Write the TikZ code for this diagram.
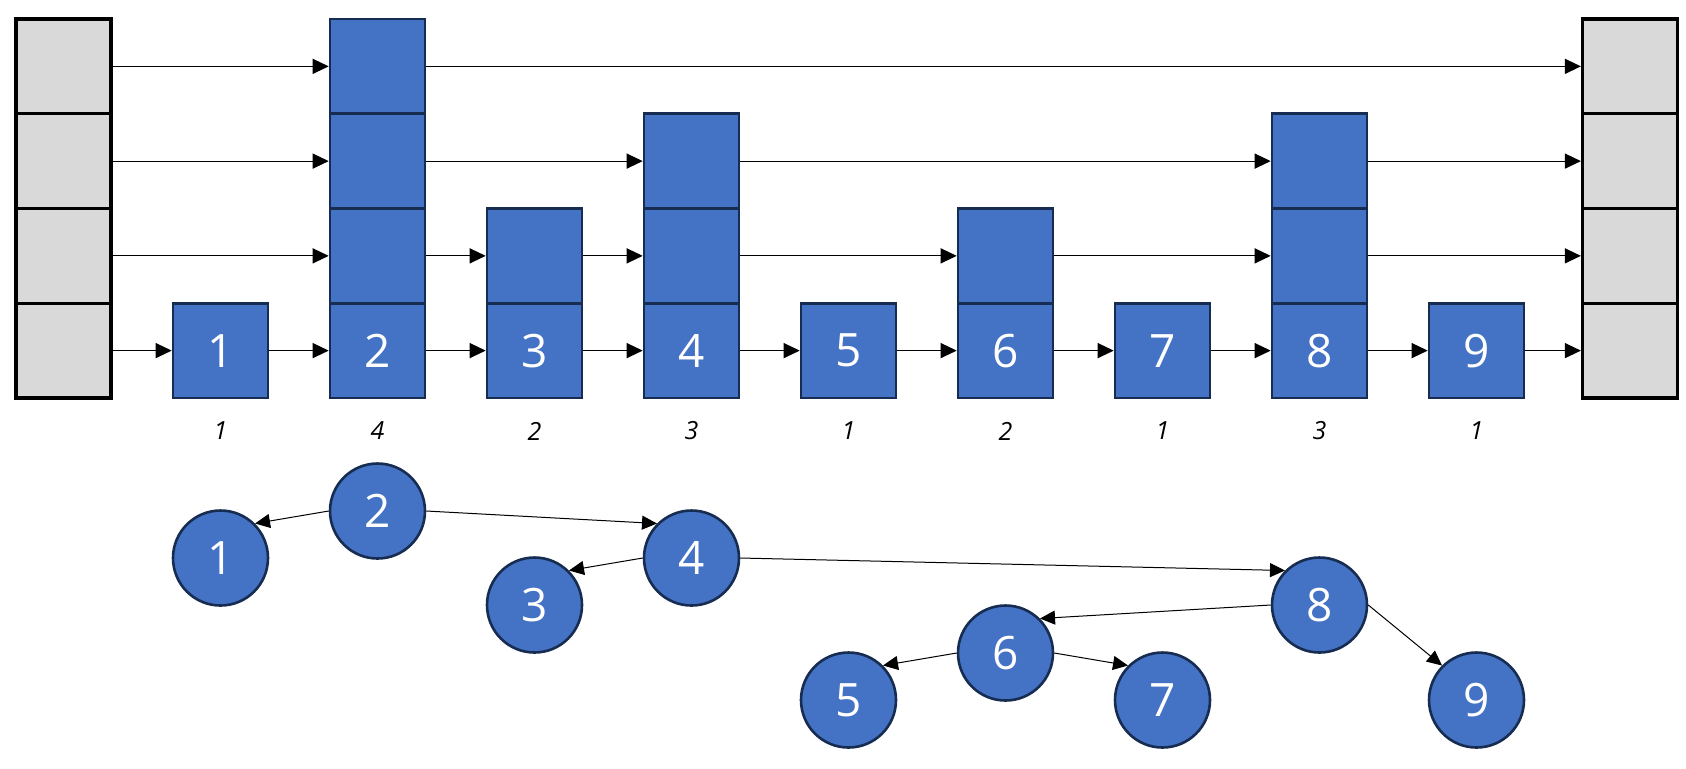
\documentclass[tikz,border=0pt]{standalone}
\usepackage{fontspec}
\setmainfont{Open Sans}
\usetikzlibrary{arrows.meta}
\definecolor{bfill}{HTML}{4472C4}
\definecolor{bdraw}{HTML}{172C51}
\definecolor{gfill}{HTML}{D9D9D9}
\begin{document}
\begin{tikzpicture}[x=0.5pt,y=-0.5pt,
 cell/.style={draw=bdraw,fill=bfill,line width=1.3pt,minimum width=47.5pt,minimum height=47.4pt,inner sep=0pt,text=white,font=\fontsize{23}{23}\selectfont},
 gcell/.style={draw=black,fill=gfill,line width=1.6pt,minimum width=47.5pt,minimum height=47.4pt,inner sep=0pt},
 tnode/.style={circle,draw=bdraw,fill=bfill,line width=1.3pt,minimum size=47.5pt,inner sep=0pt,text=white,font=\fontsize{23}{23}\selectfont},
 link/.style={-{Triangle[length=8pt,width=7.5pt]},line width=0.6pt},
 tlink/.style={-{Triangle[length=7.5pt,width=7pt]},line width=0.5pt},
 cnt/.style={font=\fontsize{12.5}{12.5}\selectfont\itshape}]
\useasboundingbox (0,0) rectangle (1686,768);
% gray head/tail columns
\foreach \r in {0,1,2,3}{
  \pgfmathsetmacro\yy{350.6-94.75*\r}
  \node[gcell] (L\r) at (63.5,\yy) {};
  \node[gcell] (R\r) at (1630,\yy) {};
}
% bottom numbered cells and counts
\foreach \i/\c in {1/1,2/4,3/2,4/3,5/1,6/2,7/1,8/3,9/1}{
  \pgfmathsetmacro\xx{220.5+157*(\i-1)}
  \node[cell] (b\i0) at (\xx,350.6) {\i};
  \node[cnt] (c\i) at (\xx,431) {\c};
}
% upper cells
\foreach \i/\r in {2/1,2/2,2/3,3/1,4/1,4/2,6/1,8/1,8/2}{
  \pgfmathsetmacro\xx{220.5+157*(\i-1)}
  \pgfmathsetmacro\yy{350.6-94.75*\r}
  \node[cell] (b\i\r) at (\xx,\yy) {};
}
% level links
\foreach \a/\b in {L0/b10,b10/b20,b20/b30,b30/b40,b40/b50,b50/b60,b60/b70,b70/b80,b80/b90,b90/R0,
                   L1/b21,b21/b31,b31/b41,b41/b61,b61/b81,b81/R1,
                   L2/b22,b22/b42,b42/b82,b82/R2,
                   L3/b23,b23/R3}{
  \draw[link] (\a.east) -- (\b.west);
}
% tree
\node[tnode] (t2) at (377.5,511) {2};
\node[tnode] (t1) at (220.5,558) {1};
\node[tnode] (t4) at (691.5,558) {4};
\node[tnode] (t3) at (534.5,605) {3};
\node[tnode] (t8) at (1319.5,605) {8};
\node[tnode] (t6) at (1005.5,653) {6};
\node[tnode] (t5) at (848.5,700) {5};
\node[tnode] (t7) at (1162.5,700) {7};
\node[tnode] (t9) at (1476.5,700) {9};
\draw[tlink] (t2.west) -- (t1.north east);
\draw[tlink] (t2.east) -- (t4.north west);
\draw[tlink] (t4.west) -- (t3.north east);
\draw[tlink] (t4.east) -- (t8.north west);
\draw[tlink] (t8.west) -- (t6.north east);
\draw[tlink] (t8.east) -- (t9.north west);
\draw[tlink] (t6.west) -- (t5.north east);
\draw[tlink] (t6.east) -- (t7.north west);
\end{tikzpicture}
\end{document}
